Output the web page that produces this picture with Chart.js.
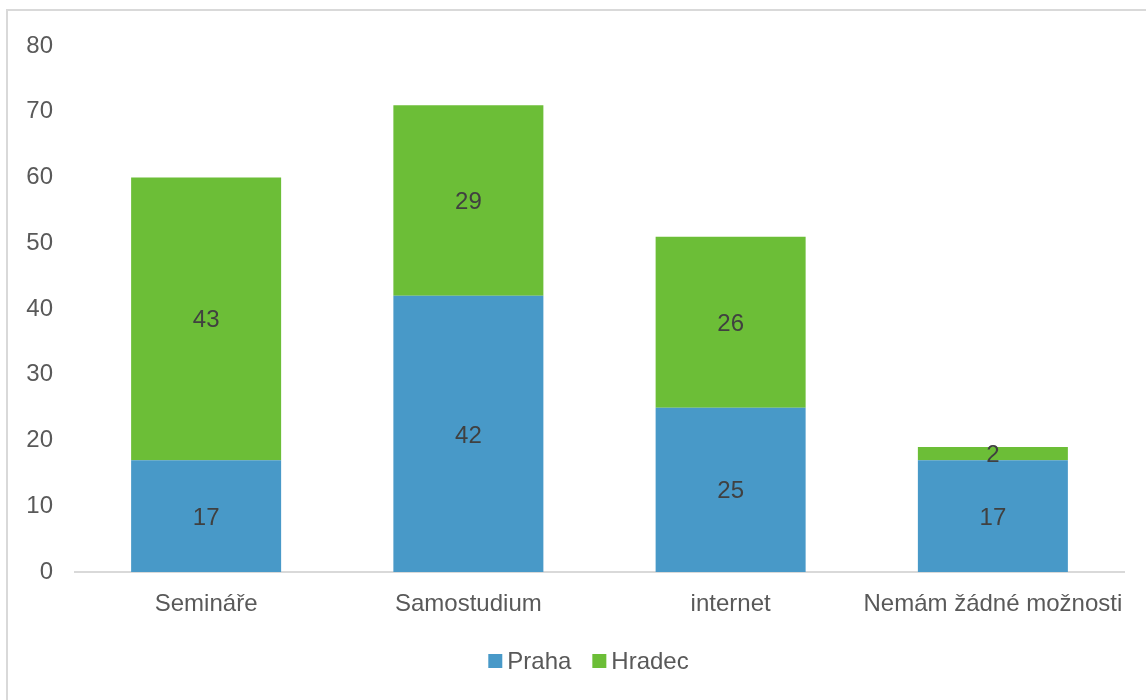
<!DOCTYPE html>
<html>
<head>
<meta charset="utf-8">
<script src="https://cdn.jsdelivr.net/npm/chart.js@4/dist/chart.umd.min.js"></script>
<style>
  html, body { margin: 0; padding: 0; background: #fff; }
  #wrap { position: relative; width: 1146px; height: 700px; overflow: hidden; }
  #frame { position: absolute; left: 6px; top: 9px; width: 1160px; height: 720px;
           border: 2px solid #d9d9d9; box-sizing: border-box; }
  #chart { position: absolute; left: 0; top: 0; }
</style>
</head>
<body>
<div id="wrap">
  <div id="frame"></div>
  <canvas id="chart" width="1146" height="700"></canvas>
</div>
<script>
var categories = ['Semináře', 'Samostudium', 'internet', 'Nemám žádné možnosti'];
var praha = [17, 42, 25, 17];
var hradec = [43, 29, 26, 2];
var seriesNames = ['Praha', 'Hradec'];
var seriesColors = ['#4899c8', '#6cbe37'];

var FONT = '"Liberation Sans", Arial, Helvetica, sans-serif';

// writes each segment's value in the middle of its bar
var barLabels = {
  id: 'barLabels',
  afterDatasetsDraw: function(chart) {
    var ctx = chart.ctx;
    ctx.save();
    ctx.font = '24px ' + FONT;
    ctx.fillStyle = '#404040';
    ctx.textAlign = 'center';
    ctx.textBaseline = 'middle';
    chart.data.datasets.forEach(function(ds, i) {
      chart.getDatasetMeta(i).data.forEach(function(bar, j) {
        var mid = (bar.y + bar.base) / 2;
        ctx.fillText(String(ds.data[j]), bar.x, mid + 2);
      });
    });
    ctx.restore();
  }
};

// compact legend under the axis: square swatch, small gap, then the name
var bottomLegend = {
  id: 'bottomLegend',
  afterDraw: function(chart) {
    var ctx = chart.ctx;
    var area = chart.chartArea;
    var box = 14, gap = 5, spacing = 21;
    ctx.save();
    ctx.font = '24px ' + FONT;
    var items = chart.data.datasets.map(function(ds) {
      return { text: ds.label, color: ds.backgroundColor, w: ctx.measureText(ds.label).width };
    });
    var total = items.reduce(function(s, it) { return s + box + gap + it.w; }, 0) + spacing * (items.length - 1);
    var x = (area.left + area.right) / 2 - total / 2 - 11;
    var cy = area.bottom + 89;
    ctx.textBaseline = 'middle';
    ctx.textAlign = 'left';
    items.forEach(function(it) {
      ctx.fillStyle = it.color;
      ctx.fillRect(x, cy - 7, box, box);
      ctx.fillStyle = '#595959';
      ctx.fillText(it.text, x + box + gap, cy + 1);
      x += box + gap + it.w + spacing;
    });
    ctx.restore();
  }
};

new Chart(document.getElementById('chart'), {
  type: 'bar',
  data: {
    labels: categories,
    datasets: [
      { label: seriesNames[0], data: praha, backgroundColor: seriesColors[0] },
      { label: seriesNames[1], data: hradec, backgroundColor: seriesColors[1] }
    ]
  },
  options: {
    responsive: false,
    animation: false,
    layout: { padding: { top: 46, right: 22, bottom: 58, left: 0 } },
    datasets: { bar: { categoryPercentage: 1, barPercentage: 0.572 } },
    scales: {
      x: {
        stacked: true,
        grid: { display: false, drawTicks: false },
        border: { display: true, color: '#d9d9d9', width: 2 },
        ticks: {
          padding: 18, maxRotation: 0, minRotation: 0, autoSkip: false,
          color: '#595959', font: { size: 24, family: FONT }
        },
        afterFit: function(scale) { scale.height = 70; }
      },
      y: {
        stacked: true,
        min: 0,
        max: 80,
        ticks: { stepSize: 10, padding: 22, color: '#595959', font: { size: 24, family: FONT } },
        grid: { display: false, drawTicks: false },
        border: { display: false },
        afterFit: function(scale) { scale.width = 75; }
      }
    },
    plugins: {
      tooltip: { enabled: false },
      legend: { display: false }
    }
  },
  plugins: [barLabels, bottomLegend]
});
</script>
</body>
</html>
